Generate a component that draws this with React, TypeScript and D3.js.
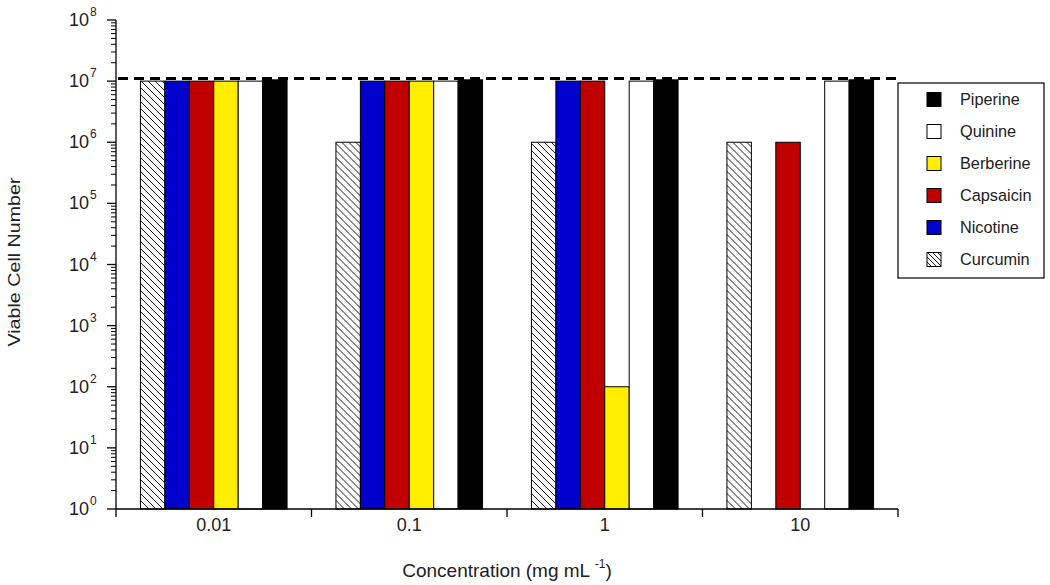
import React from "react";
import * as d3 from "d3";

const categories = ["0.01", "0.1", "1", "10"];
const seriesNames = ["Curcumin", "Nicotine", "Capsaicin", "Berberine", "Quinine", "Piperine"];
const curcumin = [1e7, 1e6, 1e6, 1e6];
const nicotine = [1e7, 1e7, 1e7, null];
const capsaicin = [1e7, 1e7, 1e7, 1e6];
const berberine = [1e7, 1e7, 100, null];
const quinine = [1e7, 1e7, 1e7, 1e7];
const piperine = [1.05e7, 1.05e7, 1.05e7, 1.05e7];
const seriesValues: (number | null)[][] = [curcumin, nicotine, capsaicin, berberine, quinine, piperine];
const seriesFill = ["url(#hatch)", "#0000cc", "#c00000", "#ffee00", "#ffffff", "#000000"];
const legendOrder = ["Piperine", "Quinine", "Berberine", "Capsaicin", "Nicotine", "Curcumin"];
const yTickExps = [0, 1, 2, 3, 4, 5, 6, 7, 8];
const thresholdValue = 1.1e7;

const W = 1050, H = 585;
const left = 116, right = 898, top = 20, bottom = 509;
const font = "Liberation Sans, Arial, Helvetica, sans-serif";

export default function App() {
  const y = d3.scaleLog().domain([1, 1e8]).range([bottom, top]);
  const x0 = d3.scaleBand().domain(categories).range([left, right]).paddingInner(0).paddingOuter(0);
  const x1 = d3.scaleBand().domain(seriesNames).range([0, x0.bandwidth()]).paddingOuter(1).paddingInner(0);

  const minorTicks: number[] = [];
  for (let e = 0; e < 8; e++) for (let m = 2; m <= 9; m++) minorTicks.push(m * Math.pow(10, e));

  const boundaries = [...categories.map((c) => x0(c)!), right];

  return (
    <svg width={W} height={H} style={{ position: "absolute", left: 0, top: 0, background: "#fff" }} fontFamily={font}>
      <defs>
        <pattern id="hatch" patternUnits="userSpaceOnUse" width="7" height="7">
          <path d="M-1,-1 L8,8 M-1,6 L1,8 M6,-1 L8,1" stroke="#000" strokeWidth="0.9" />
        </pattern>
        <pattern id="hatchL" patternUnits="userSpaceOnUse" width="5" height="5">
          <path d="M-1,-1 L6,6 M-1,4 L1,6 M4,-1 L6,1" stroke="#000" strokeWidth="0.9" />
        </pattern>
      </defs>
      <rect width={W} height={H} fill="#fff" />
      {/* bars */}
      {categories.map((c, ci) => (
        <g key={c} transform={`translate(${x0(c)},0)`}>
          {seriesNames.map((s, si) => {
            const v = seriesValues[si][ci];
            if (v == null) return null;
            const yy = y(v);
            return (
              <rect key={s} x={x1(s)} y={yy} width={x1.bandwidth()} height={bottom - yy}
                fill={seriesFill[si]} stroke="#000" strokeWidth={1} />
            );
          })}
        </g>
      ))}
      {/* dashed threshold */}
      <line x1={left + 2} x2={right} y1={y(thresholdValue)} y2={y(thresholdValue)} stroke="#000" strokeWidth={3} strokeDasharray="10,6" />
      {/* y axis */}
      <line x1={left} x2={left} y1={top} y2={bottom} stroke="#000" strokeWidth={1.3} />
      {yTickExps.map((e) => (
        <g key={e}>
          <line x1={left - 9} x2={left} y1={y(Math.pow(10, e))} y2={y(Math.pow(10, e))} stroke="#000" strokeWidth={1.3} />
          <text x={89} y={y(Math.pow(10, e)) + 6} textAnchor="end" fontSize={18} fill="#222">10</text>
          <text x={90} y={y(Math.pow(10, e)) - 4} textAnchor="start" fontSize={12} fill="#222">{e}</text>
        </g>
      ))}
      {minorTicks.map((t) => (
        <line key={t} x1={left - 5} x2={left} y1={y(t)} y2={y(t)} stroke="#000" strokeWidth={1} />
      ))}
      {/* x axis */}
      <line x1={left} x2={right} y1={bottom} y2={bottom} stroke="#000" strokeWidth={1.3} />
      {boundaries.map((b, i) => (
        <line key={i} x1={b} x2={b} y1={bottom} y2={bottom + 8} stroke="#000" strokeWidth={1.3} />
      ))}
      {categories.map((c) => (
        <text key={c} x={x0(c)! + x0.bandwidth() / 2} y={531} textAnchor="middle" fontSize={18} fill="#222">{c}</text>
      ))}
      {/* axis titles */}
      <text x={507} y={577} textAnchor="middle" fontSize={19} fill="#222">
        Concentration (mg mL <tspan dy={-9} fontSize={12}>-1</tspan><tspan dy={9}>)</tspan>
      </text>
      <text transform={`translate(20,262) rotate(-90)`} textAnchor="middle" fontSize={17} fill="#222"
        textLength={169} lengthAdjust="spacingAndGlyphs">Viable Cell Number</text>
      {/* legend */}
      <rect x={898} y={83} width={146} height={195} fill="#fff" stroke="#000" strokeWidth={1.2} />
      {legendOrder.map((name, i) => {
        const si = seriesNames.indexOf(name);
        const cy = 99 + i * 32;
        return (
          <g key={name}>
            <rect x={927} y={cy - 6.5} width={14} height={14} fill={si === 0 ? "url(#hatchL)" : seriesFill[si]} stroke="#000" strokeWidth={1} />
            <text x={960} y={cy + 5.5} fontSize={16.3} fill="#222">{name}</text>
          </g>
        );
      })}
    </svg>
  );
}
